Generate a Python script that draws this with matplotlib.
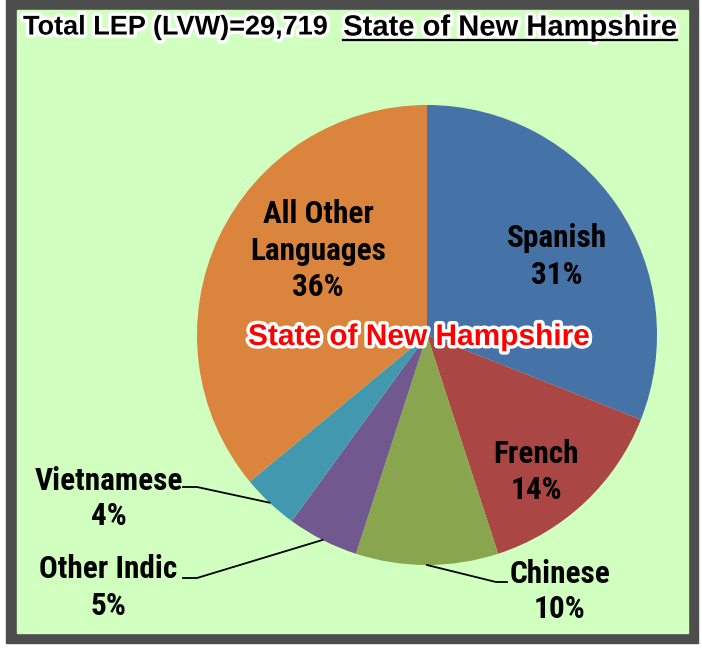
import matplotlib.pyplot as plt
import matplotlib.patheffects as pe
from matplotlib import font_manager as fm
from matplotlib.patches import Rectangle
from matplotlib.lines import Line2D
import numpy as np

# data
languages = ['Spanish', 'French', 'Chinese', 'Other Indic', 'Vietnamese', 'All Other\nLanguages']
shares = [31, 14, 10, 5, 4, 36]
colors = ['#4572A7', '#AA4643', '#89A54E', '#71588F', '#4198AF', '#DB843D']
total_label = 'Total LEP (LVW)=29,719'
state = 'State of New Hampshire'

W, H = 702, 649


def pick_font(candidates, fallback):
    # first candidate family that exists with a bold face
    have = {}
    for f in fm.fontManager.ttflist:
        w = f.weight if isinstance(f.weight, int) else 700 if 'bold' in str(f.weight) else 400
        have[f.name] = max(have.get(f.name, 0), w)
    for c in candidates:
        if have.get(c, 0) >= 600:
            return c
    return fallback


NARROW = pick_font(['Arial Narrow', 'Liberation Sans Narrow', 'Archivo Narrow', 'Roboto Condensed',
                    'PT Sans Narrow', 'Pragati Narrow', 'Fira Sans Condensed',
                    'IBM Plex Sans Condensed', 'Encode Sans Condensed'], 'DejaVu Sans')
LABEL_FONT = [NARROW, 'DejaVu Sans']
TITLE_FONT = ['Liberation Sans', 'DejaVu Sans']

fig = plt.figure(figsize=(W / 100, H / 100), dpi=100)
fig.patch.set_facecolor('white')


def fx(px):
    return px / W


def fy(py):
    return 1 - py / H


# frame: dark border + light green panel
fig.patches.append(Rectangle((fx(6), fy(643)), fx(698) - fx(6), fy(0) - fy(643),
                             transform=fig.transFigure, color='#4D4D4D', zorder=0))
fig.patches.append(Rectangle((fx(17), fy(633)), fx(688) - fx(17), fy(10) - fy(633),
                             transform=fig.transFigure, color='#D0FFC0', zorder=1))

# pie axes: centre (427, 335) px, radius 230 px
cx, cy, r = 427, 335, 230
ax = fig.add_axes([fx(cx - r), fy(cy + r), 2 * r / W, 2 * r / H])
ax.set_zorder(2)
ax.patch.set_visible(False)
wedges, _ = ax.pie(shares, colors=colors, startangle=90, counterclock=False,
                   radius=1, wedgeprops=dict(linewidth=0))
ax.set_xlim(-1, 1)
ax.set_ylim(-1, 1)
ax.set_aspect('equal')
ax.axis('off')


def d(px, py):
    return ((px - cx) / r, (cy - py) / r)


# label x centre and baselines of each line (px)
label_pos = {
    'Spanish': (557, [247, 284]),
    'French': (536, [463, 499]),
    'Chinese': (560, [583, 618]),
    'Other Indic': (108, [578, 615]),
    'Vietnamese': (109, [490, 525]),
    'All Other\nLanguages': (318, [223, 260, 296]),
}
# leader lines: elbow and end points (px)
leaders = {
    'Chinese': [(496, 582), (507, 582)],
    'Other Indic': [(197, 578), (183, 578)],
    'Vietnamese': [(197, 487), (183, 487)],
}

for w, name, val in zip(wedges, languages, shares):
    x0, baselines = label_pos[name]
    rows = name.split('\n') + [f'{val}%']
    for row, b in zip(rows, baselines):
        x, y = d(x0, b)
        ax.text(x, y, row, ha='center', va='baseline', fontsize=22.5,
                fontweight='bold', family=LABEL_FONT, color='black', clip_on=False)
    if name in leaders:
        ang = np.deg2rad((w.theta1 + w.theta2) / 2)
        xs = [np.cos(ang)] + [d(*p)[0] for p in leaders[name]]
        ys = [np.sin(ang)] + [d(*p)[1] for p in leaders[name]]
        ax.plot(xs, ys, color='black', lw=1.3, clip_on=False)

glow = [pe.withStroke(linewidth=5, foreground='white')]

# centre watermark
x, y = d(419, 345)
ax.text(x, y, state, ha='center', va='baseline', fontsize=21.5, fontweight='bold',
        family=TITLE_FONT, color='red', path_effects=glow, clip_on=False)

# header texts
fig.text(fx(23), fy(34.5), total_label, ha='left', va='baseline', fontsize=19.5,
         fontweight='bold', family=TITLE_FONT, color='black', path_effects=glow, zorder=3)
fig.text(fx(510), fy(35.5), state, ha='center', va='baseline', fontsize=21,
         fontweight='bold', family=TITLE_FONT, color='black', path_effects=glow, zorder=3)
fig.lines.append(Line2D([fx(343), fx(677)], [fy(39.5), fy(39.5)], transform=fig.transFigure,
                        color='black', lw=1.6, zorder=4))

fig.savefig('out.png', dpi=100)
